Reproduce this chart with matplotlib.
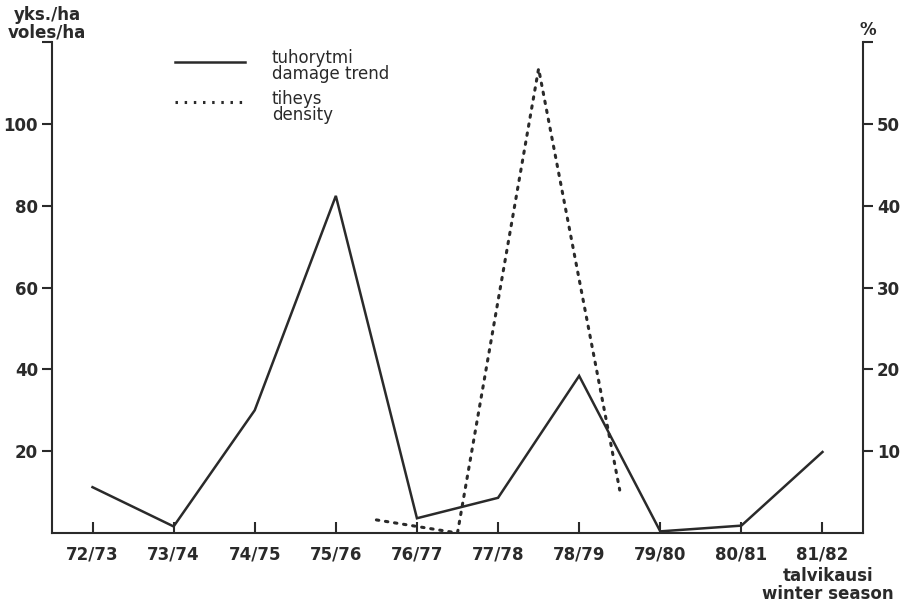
import numpy as np
import matplotlib
matplotlib.use("Agg")
import matplotlib.pyplot as plt

seasons = ["72/73", "73/74", "74/75", "75/76", "76/77",
           "77/78", "78/79", "79/80", "80/81", "81/82"]
# damage trend, % (right axis)
damage_pct = [5.6, 0.8, 15.0, 41.2, 1.8, 4.3, 19.2, 0.2, 0.9, 9.9]
# vole density, voles/ha (left axis), measured between seasons
density_pos = [3.5, 4.5, 5.5, 6.5]
density = [3.2, 0.0, 113.5, 10.5]

plt.rcParams["font.family"] = ["DejaVu Sans"]
fig = plt.figure(figsize=(9.02, 6.03), dpi=100)
ax = fig.add_axes([0.0576, 0.1161, 0.8992, 0.8142])
ax2 = ax.twinx()

x = np.arange(len(seasons))
ink = "#2a2a2a"
ax2.plot(x, damage_pct, color=ink, lw=1.8, solid_joinstyle="miter")
ax.plot(density_pos, density, color=ink, lw=2.2, linestyle=(0, (0.8, 2.2)),
        dash_capstyle="round")

ax.set_xlim(-0.5, 9.5)
ax.set_ylim(0, 120)
ax2.set_ylim(0, 60)
ax.set_xticks(x)
ax.set_xticklabels(seasons)
ax.set_yticks([20, 40, 60, 80, 100, 120])
ax.set_yticklabels(["20", "40", "60", "80", "100", ""])
ax2.set_yticks([10, 20, 30, 40, 50, 60])
ax2.set_yticklabels(["10", "20", "30", "40", "50", ""])

fs = 12
for a in (ax, ax2):
    a.spines["top"].set_visible(False)
    for s in a.spines.values():
        s.set_linewidth(1.5)
        s.set_color(ink)
    a.tick_params(length=7, width=1.5, color=ink, labelsize=fs,
                  labelcolor=ink, pad=3)
ax.tick_params(axis="x", direction="in", length=8, pad=9)
ax.spines["right"].set_visible(False)
ax2.spines["left"].set_visible(False)
ax2.spines["bottom"].set_visible(False)

for lab in ax.get_xticklabels() + ax.get_yticklabels() + ax2.get_yticklabels():
    lab.set_fontweight("semibold")

fig.text(47 / 902, 1 - 24 / 603, "yks./ha\nvoles/ha", ha="center", va="center",
         fontsize=fs, fontweight="semibold", color=ink, linespacing=0.95)
fig.text(868 / 902, 1 - 30 / 603, "%", ha="center", va="center",
         fontsize=fs, fontweight="semibold", color=ink)
fig.text(828 / 902, 1 - 585 / 603, "talvikausi\nwinter season", ha="center",
         va="center", fontsize=fs, fontweight="semibold", color=ink,
         linespacing=0.95)

# legend drawn by hand in figure coords
fig.add_artist(plt.Line2D([175 / 902, 245 / 902], [1 - 62 / 603, 1 - 62 / 603],
                          color=ink, lw=1.8))
fig.add_artist(plt.Line2D([175 / 902, 245 / 902], [1 - 102 / 603, 1 - 102 / 603],
                          color=ink, lw=2.2, linestyle=(0, (0.8, 2.2))))
fig.text(272 / 902, 1 - 66 / 603, "tuhorytmi\ndamage trend", ha="left",
         va="center", fontsize=fs, color=ink, linespacing=0.9)
fig.text(272 / 902, 1 - 107 / 603, "tiheys\ndensity", ha="left",
         va="center", fontsize=fs, color=ink, linespacing=0.9)

fig.savefig("out.png", dpi=100)
